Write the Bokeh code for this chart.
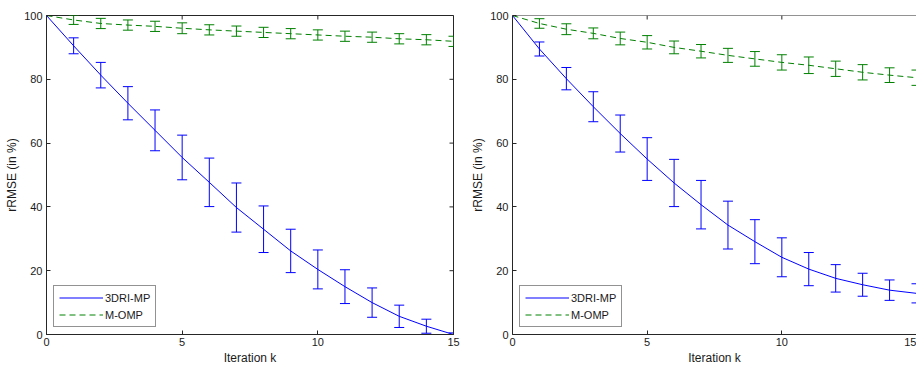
import math
from bokeh.plotting import figure
from bokeh.layouts import row
from bokeh.models import (Range1d, FixedTicker, Whisker, TeeHead, Span,
                          ColumnDataSource, Legend, LegendItem)
from bokeh.embed import file_html
from bokeh.resources import INLINE

# ---- data ----
k = list(range(16))
x_ticks = [0, 5, 10, 15]
y_ticks = [0, 20, 40, 60, 80, 100]
series_names = ["3DRI-MP", "M-OMP"]

left_3dri_mean = [100, 90.5, 81.3, 72.5, 64.0, 55.5, 47.7, 39.8, 33.0, 26.2, 20.4, 15.0, 10.0, 5.7, 2.6, 0.0]
left_3dri_err = [0, 2.5, 4.0, 5.2, 6.4, 7.0, 7.6, 7.7, 7.3, 6.8, 6.1, 5.3, 4.6, 3.5, 2.2, 0.5]
left_momp_mean = [100, 98.6, 97.5, 97.0, 96.6, 96.0, 95.5, 95.1, 94.7, 94.3, 93.9, 93.5, 93.2, 92.7, 92.4, 91.9]
left_momp_err = [0, 1.4, 1.6, 1.6, 1.6, 1.7, 1.6, 1.6, 1.6, 1.6, 1.6, 1.6, 1.6, 1.6, 1.6, 1.6]

right_3dri_mean = [100, 89.5, 80.2, 71.4, 63.0, 55.0, 47.5, 40.7, 34.3, 29.1, 24.2, 20.5, 17.6, 15.6, 13.9, 12.9]
right_3dri_err = [0, 2.2, 3.5, 4.7, 5.8, 6.7, 7.4, 7.6, 7.5, 6.9, 6.1, 5.2, 4.3, 3.6, 3.2, 3.0]
right_momp_mean = [100, 97.5, 95.7, 94.4, 92.8, 91.6, 90.0, 88.8, 87.5, 86.4, 85.3, 84.4, 83.3, 82.2, 81.3, 80.5]
right_momp_err = [0, 1.5, 1.7, 1.7, 2.0, 2.1, 2.0, 2.1, 2.2, 2.3, 2.4, 2.6, 2.4, 2.4, 2.3, 2.4]

BLUE = "#0000ff"
GREEN = "#008000"
AXC = "#262626"
TXT = "#1a1a1a"
FONT = "Liberation Sans"


def make_panel(width, border_right, means, errs, mirror_right=True):
    p = figure(width=width, height=367, output_backend="svg", toolbar_location=None,
               x_range=Range1d(0, 15), y_range=Range1d(0, 100),
               min_border_left=46, min_border_right=border_right,
               min_border_top=15, min_border_bottom=33)
    p.xgrid.visible = False
    p.ygrid.visible = False
    p.background_fill_color = "white"
    p.border_fill_color = "white"
    if mirror_right:
        p.outline_line_color = AXC
        p.outline_line_width = 1
    else:
        # right edge of this box lies beyond the window: draw only the top edge
        p.outline_line_color = None
        p.add_layout(Span(location=100, dimension="width", line_color=AXC, line_width=1))

    for ax in (p.xaxis[0], p.yaxis[0]):
        ax.major_tick_in = 4
        ax.major_tick_out = 0
        ax.minor_tick_line_color = None
        ax.axis_line_color = AXC
        ax.major_tick_line_color = AXC
        ax.major_label_text_font = FONT
        ax.major_label_text_font_size = "11px"
        ax.major_label_text_color = TXT
        ax.axis_label_text_font = FONT
        ax.axis_label_text_font_size = "12px"
        ax.axis_label_text_font_style = "normal"
        ax.axis_label_text_color = TXT
    p.xaxis[0].ticker = FixedTicker(ticks=x_ticks)
    p.yaxis[0].ticker = FixedTicker(ticks=y_ticks)
    p.xaxis[0].axis_label = "Iteration k"
    p.yaxis[0].axis_label = "rRMSE (in %)"
    p.xaxis[0].major_label_standoff = 3
    p.xaxis[0].axis_label_standoff = 2
    p.yaxis[0].major_label_standoff = 4
    p.yaxis[0].axis_label_standoff = 2

    # mirrored tick marks on top (and right) edges, 4 px long, pointing inward
    p.ray(x=x_ticks, y=[100] * len(x_ticks), length=4, length_units="screen",
          angle=-math.pi / 2, line_color=AXC, line_width=1)
    if mirror_right:
        p.ray(x=[15] * len(y_ticks), y=y_ticks, length=4, length_units="screen",
              angle=math.pi, line_color=AXC, line_width=1)

    items = []
    colors = [BLUE, GREEN]
    dashes = ["solid", "6 4"]
    for name, mean, err, col, dash in zip(series_names, means, errs, colors, dashes):
        kk = [x for x, e in zip(k, err) if e > 0]
        up = [m + e for m, e in zip(mean, err) if e > 0]
        lo = [m - e for m, e in zip(mean, err) if e > 0]
        src = ColumnDataSource(dict(x=kk, upper=up, lower=lo))
        w = Whisker(base="x", upper="upper", lower="lower", source=src,
                    line_color=col, line_width=1,
                    upper_head=TeeHead(size=10, line_color=col, line_width=1),
                    lower_head=TeeHead(size=10, line_color=col, line_width=1))
        p.add_layout(w)
        r = p.line(k, mean, line_color=col, line_width=1, line_dash=dash)
        items.append(LegendItem(label=name, renderers=[r]))

    leg = Legend(items=items, location="bottom_left", margin=7, padding=5, spacing=4,
                 glyph_width=44, glyph_height=13, label_height=13, label_standoff=2,
                 label_text_font=FONT, label_text_font_size="11px",
                 label_text_color=TXT,
                 border_line_color=AXC, border_line_width=1,
                 background_fill_color="white", background_fill_alpha=1)
    p.add_layout(leg, "center")
    return p


p1 = make_panel(466, 13, [left_3dri_mean, left_momp_mean], [left_3dri_err, left_momp_err], True)
p2 = make_panel(450, 0, [right_3dri_mean, right_momp_mean], [right_3dri_err, right_momp_err], False)

layout = row(p1, p2)
open("out.html", "w").write(file_html(layout, INLINE))
